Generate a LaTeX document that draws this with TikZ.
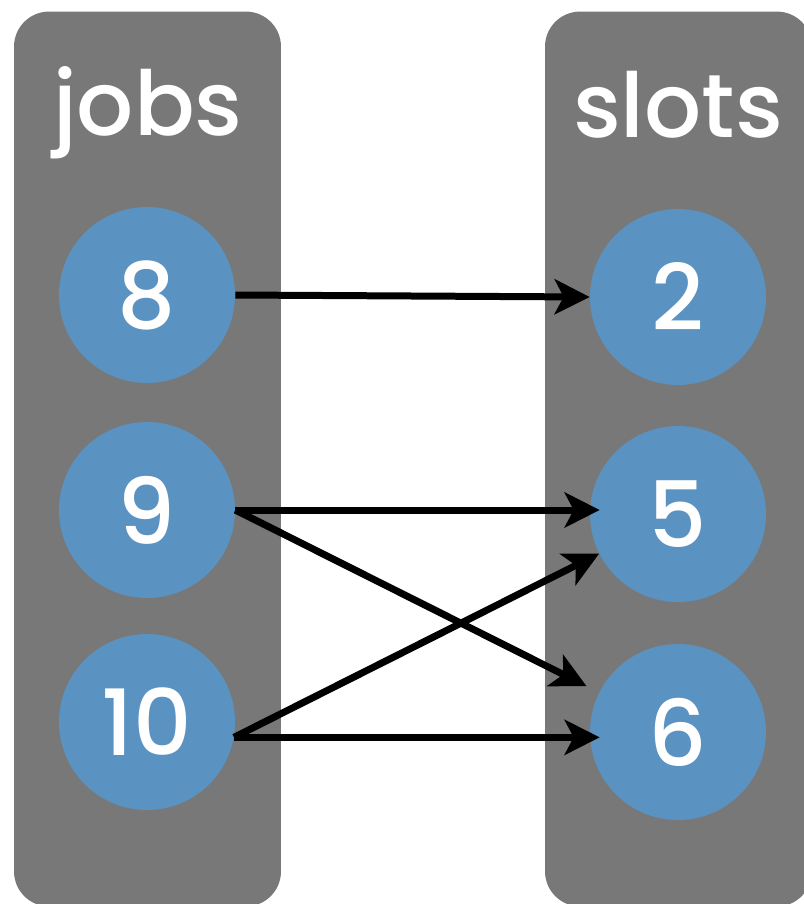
\documentclass[tikz,border=0pt]{standalone}
\usepackage{fontspec}
\setmainfont{Poppins}[UprightFont=* Medium]
\usepackage{xcolor}
\usetikzlibrary{arrows.meta,positioning,calc}
\definecolor{panelgray}{RGB}{120,120,120}
\definecolor{itemblue} {RGB}{90,146,193}

\begin{document}
\begin{tikzpicture}[
  x=0.02cm, y=-0.02cm,
  panel/.style={rectangle, rounded corners=0.7cm, fill=panelgray,
    minimum width=5.34cm, minimum height=17.9cm, inner sep=0pt},
  title/.style={anchor=base, text=white, font=\fontsize{51}{53}\selectfont,
    inner sep=0pt},
  item/.style={circle, fill=itemblue, minimum size=3.52cm, inner sep=0pt,
    text=white, font=\fontsize{52}{54}\selectfont},
  arr/.style={-{Stealth[length=0.7cm, width=0.7cm, inset=0.18cm]},
    line width=0.14cm, black},
]
\useasboundingbox (0,0) rectangle (804,904);
\clip (0,0) rectangle (804,904);

% columns
\node[panel] (jobscol)  at (147.5,459) {};
\node[panel] (slotscol) at (678.5,459) {};
\node[title] (jobslabel)  at (148,135) {jobs};
\node[title] (slotslabel) at (678,137) {slots};

% jobs
\node[item] (job8)  at (147,295) {8};
\node[item] (job9)  at (147,510) {9};
\node[item] (job10) at (147,722) {10};

% slots
\node[item] (slot2) at (678,297) {2};
\node[item] (slot5) at (678,514) {5};
\node[item] (slot6) at (678,732) {6};

% Arrows
\draw[arr] (job8.east) -- (slot2.west);
\draw[arr, shorten >=-0.2cm] (job9.east) -- (job9.east -| slot5.west);
\draw[arr, shorten >=0.28cm] (job9.east) -- (slot6);
\draw[arr] (job10.-10) -- (slot5);
\draw[arr, shorten >=-0.2cm] (job10.-10) -- (job10.-10 -| slot6.west);

\end{tikzpicture}
\end{document}
